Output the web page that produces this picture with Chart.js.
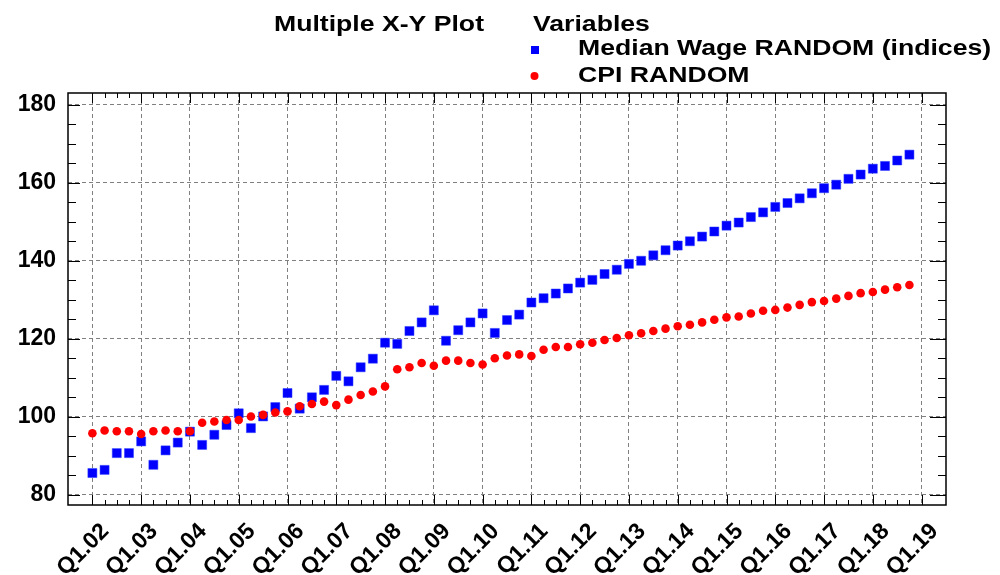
<!DOCTYPE html>
<html>
<head>
<meta charset="utf-8">
<script src="https://cdn.jsdelivr.net/npm/chart.js@4/dist/chart.umd.min.js"></script>
<style>
  html, body { margin: 0; padding: 0; background: #fff; }
  #wrap { width: 1000px; height: 575px; }
</style>
</head>
<body>
<div id="wrap"><canvas id="chart" width="1000" height="575"></canvas></div>
<script>
// quarterly index: 0 = Q1.02 ... 67 = Q4.18
const wageData = [
  85.6, 86.4, 90.7, 90.7, 93.7, 87.7, 91.4, 93.4, 96.2, 92.8, 95.4, 97.9,
  100.9, 97.1, 100.1, 102.5, 106.1, 102.1, 105.0, 106.9, 110.5, 109.1, 112.7, 114.9,
  119.0, 118.7, 122.0, 124.2, 127.3, 119.5, 122.2, 124.2, 126.5, 121.5, 124.8, 126.2,
  129.3, 130.4, 131.6, 132.9, 134.4, 135.1, 136.6, 137.7, 139.2, 140.0, 141.4, 142.7,
  143.9, 145.0, 146.2, 147.5, 149.0, 149.8, 151.2, 152.4, 153.8, 154.8, 156.0, 157.3,
  158.6, 159.5, 161.0, 162.1, 163.6, 164.3, 165.7, 167.2
];

const cpiData = [
  95.8, 96.5, 96.3, 96.3, 95.6, 96.3, 96.5, 96.3, 96.3, 98.5, 98.8, 99.2,
  99.2, 100.1, 100.5, 101.1, 101.4, 102.7, 103.3, 103.9, 103.0, 104.4, 105.6, 106.5,
  107.8, 112.2, 112.7, 113.8, 113.1, 114.4, 114.4, 113.8, 113.4, 115.0, 115.7, 116.0,
  115.6, 117.2, 117.9, 117.9, 118.6, 119.0, 119.7, 120.2, 120.9, 121.4, 122.0, 122.6,
  123.2, 123.6, 124.2, 124.9, 125.5, 125.7, 126.5, 127.2, 127.4, 128.0, 128.7, 129.4,
  129.7, 130.3, 131.0, 131.7, 132.0, 132.6, 133.2, 133.8
];

const seriesNames = ["Median Wage RANDOM (indices)", "CPI RANDOM"];
const xLabels = ["Q1.02", "Q1.03", "Q1.04", "Q1.05", "Q1.06", "Q1.07", "Q1.08", "Q1.09", "Q1.10",
  "Q1.11", "Q1.12", "Q1.13", "Q1.14", "Q1.15", "Q1.16", "Q1.17", "Q1.18", "Q1.19"];
const yTicks = [80, 100, 120, 140, 160, 180];

const FONT = "'Liberation Sans', Arial, sans-serif";

// frame, inward tick marks and the header/legend block
const decorPlugin = {
  id: "decor",
  afterDraw(chart) {
    const ctx = chart.ctx;
    const a = chart.chartArea;
    const xs = chart.scales.x, ys = chart.scales.y;
    ctx.save();
    ctx.strokeStyle = "#000";
    ctx.lineWidth = 1;
    ctx.beginPath();
    for (let q = 0; q <= xLabels.length * 4 - 4; q++) {
      const px = Math.round(xs.getPixelForValue(q)) + 0.5;
      const len = q % 4 === 0 ? 10 : 5;
      ctx.moveTo(px, a.bottom); ctx.lineTo(px, a.bottom - len);
      ctx.moveTo(px, a.top); ctx.lineTo(px, a.top + len);
    }
    for (let v = yTicks[0]; v <= yTicks[yTicks.length - 1]; v += 5) {
      const py = Math.round(ys.getPixelForValue(v)) + 0.5;
      const major = v % 20 === 0;
      ctx.moveTo(a.left, py); ctx.lineTo(a.left + (major ? 12 : 8), py);
      ctx.moveTo(a.right, py); ctx.lineTo(a.right - (major ? 16 : 8), py);
    }
    ctx.stroke();
    ctx.lineWidth = 1.5;
    ctx.strokeRect(a.left, a.top, a.right - a.left, a.bottom - a.top);

    // header text, slightly stretched like the original
    const sx = 1.21;
    ctx.fillStyle = "#000";
    ctx.font = "bold 22px " + FONT;
    ctx.textBaseline = "alphabetic";
    ctx.scale(sx, 1);
    ctx.fillText("Multiple X-Y Plot", 274 / sx, 31);
    ctx.fillText("Variables", 533 / sx, 31);
    ctx.fillText(seriesNames[0], 578 / sx, 55);
    ctx.fillText(seriesNames[1], 578 / sx, 82);
    ctx.setTransform(1, 0, 0, 1, 0, 0);
    ctx.fillStyle = "#0000ff";
    ctx.fillRect(531, 46, 8, 8);
    ctx.fillStyle = "#ff0000";
    ctx.beginPath();
    ctx.arc(534.5, 76, 4, 0, Math.PI * 2);
    ctx.fill();
    ctx.restore();
  }
};

new Chart(document.getElementById("chart"), {
  type: "scatter",
  data: {
    datasets: [
      {
        label: seriesNames[0],
        data: wageData.map((v, i) => ({ x: i, y: v })),
        pointStyle: "rect",
        pointRadius: 6.4,
        pointBackgroundColor: "#0000ff",
        pointBorderColor: "#2a3cff",
        pointBorderWidth: 0.5,
        order: 1,
      },
      {
        label: seriesNames[1],
        data: cpiData.map((v, i) => ({ x: i, y: v })),
        pointStyle: "circle",
        pointRadius: 4.3,
        pointBackgroundColor: "#ff0000",
        pointBorderColor: "#ff0000",
        pointBorderWidth: 0,
        order: 0,
      },
    ],
  },
  options: {
    responsive: false,
    animation: false,
    layout: { padding: { top: 93, right: 54, left: 0, bottom: 0 } },
    plugins: {
      legend: { display: false },
      tooltip: { enabled: false },
    },
    scales: {
      x: {
        type: "linear",
        min: -2,
        max: 70,
        afterBuildTicks: (s) => { s.ticks = xLabels.map((l, i) => ({ value: i * 4 })); },
        afterFit: (s) => { s.height = 70; },
        grid: { color: "#808080", lineWidth: 1, drawTicks: false },
        border: { display: false, dash: [4, 3] },
        ticks: {
          minRotation: 45,
          maxRotation: 45,
          padding: 13,
          labelOffset: 13,
          color: "#000",
          font: { family: FONT, size: 23, weight: "bold" },
          callback: (v) => xLabels[Math.round(v / 4)],
        },
      },
      y: {
        min: 77.4,
        max: 183,
        afterBuildTicks: (s) => { s.ticks = yTicks.map((v) => ({ value: v })); },
        afterFit: (s) => { s.width = 68; },
        grid: { color: "#808080", lineWidth: 1, drawTicks: false },
        border: { display: false, dash: [4, 3] },
        ticks: {
          padding: 12,
          color: "#000",
          font: { family: FONT, size: 23, weight: "bold" },
        },
      },
    },
  },
  plugins: [decorPlugin],
});
</script>
</body>
</html>
